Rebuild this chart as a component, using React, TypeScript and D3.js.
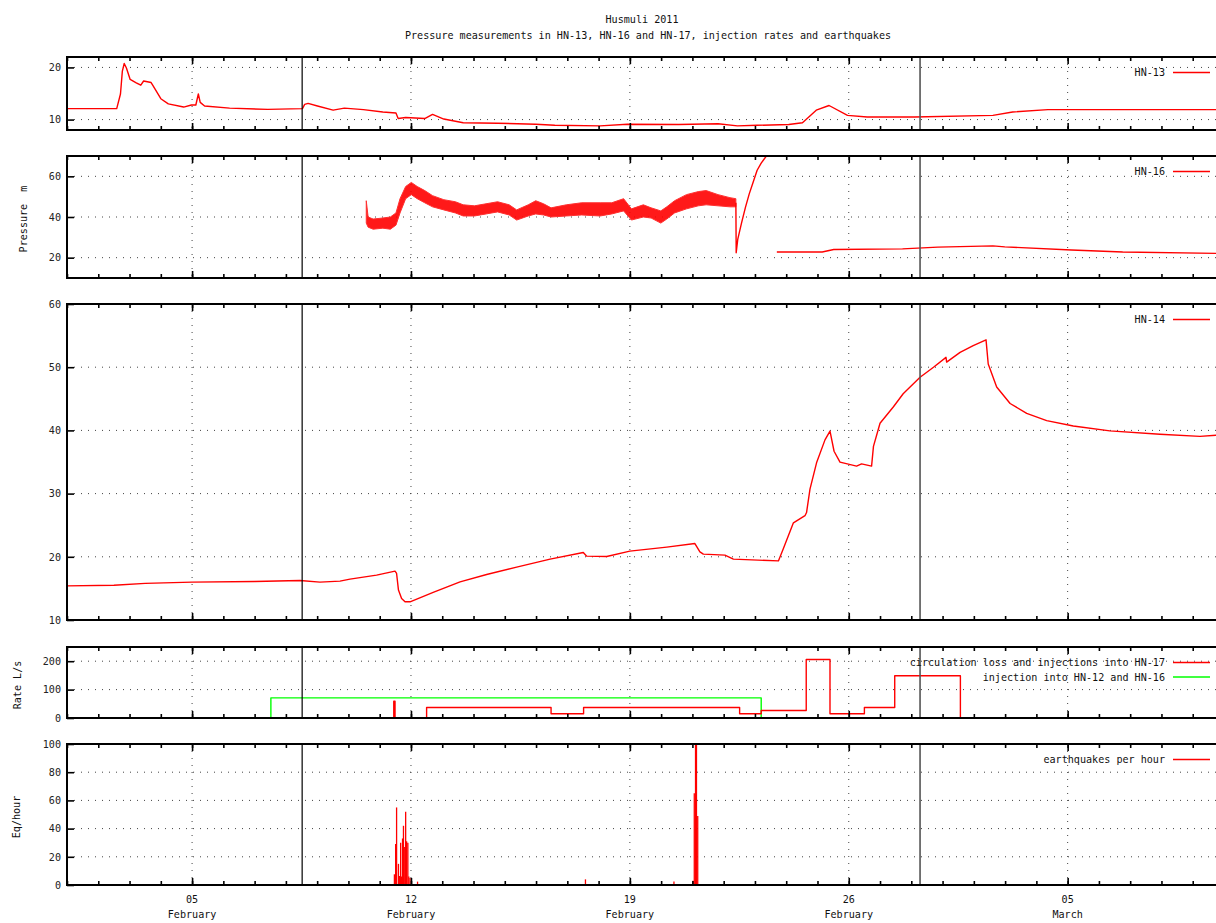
import { useEffect, useRef } from 'react';
import * as d3 from 'd3';

const W = 1216;
const H = 923;
const FONT = '"DejaVu Sans Mono", "Liberation Mono", monospace';
const FONT_SIZE = 10.1;
const RED = '#ff0000';
const GREEN = '#00ff00';

const START = new Date(2011, 1, 1);
const END = new Date(2011, 2, 10);
const DAY_MS = 24 * 60 * 60 * 1000;

const TITLE = 'Husmuli 2011';
const SUBTITLE = 'Pressure measurements in HN-13, HN-16 and HN-17, injection rates and earthquakes';

// all series: [days since 1 Feb 2011, value]
const HN13: [number, number][] = [
    [0, 12.1], [1.59, 12.1], [1.71, 14.9], [1.77, 19.3], [1.83, 20.75], [1.9, 19.9], [2.02, 17.7],
    [2.2, 17.1], [2.36, 16.6], [2.45, 17.4], [2.69, 17.1], [2.75, 16.5], [3.0, 14.0], [3.24, 13.0],
    [3.73, 12.4], [3.98, 12.8], [4.12, 12.8], [4.2, 14.9], [4.26, 13.3], [4.4, 12.6], [5.2, 12.2],
    [6.42, 11.95], [7.53, 12.1], [7.6, 12.9], [7.71, 13.1], [8.01, 12.6], [8.51, 11.8], [8.87, 12.2],
    [9.48, 11.9], [10.1, 11.45], [10.52, 11.25], [10.59, 10.2], [10.83, 10.4], [11.44, 10.2],
    [11.69, 11.0], [12.05, 10.1], [12.67, 9.4], [13.77, 9.3], [14.99, 9.1], [15.6, 8.9], [17.05, 8.8],
    [17.92, 9.1], [19.56, 9.05], [20.82, 9.2], [21.44, 8.8], [22.07, 8.9], [23.08, 9.05], [23.52, 9.4],
    [23.96, 11.8], [24.37, 12.7], [24.96, 10.8], [25.59, 10.5], [27.1, 10.5], [29.61, 10.8],
    [30.24, 11.45], [31.37, 11.9], [36.9, 11.9],
];

// noisy part of HN-16: [day, low, high]
const HN16_NOISY: [number, number, number][] = [
    [9.57, 37, 48], [9.63, 35, 40], [9.79, 34, 39], [10.1, 34.5, 39.5], [10.34, 34, 40], [10.52, 36, 42],
    [10.65, 42, 49], [10.83, 49, 55], [11.01, 51, 57], [11.2, 49, 55], [11.44, 47, 53], [11.69, 45, 50.5],
    [12.05, 43.5, 48.5], [12.42, 42, 47.5], [12.67, 40.5, 46], [13.03, 40.5, 45.5], [13.4, 41.5, 46.5],
    [13.77, 42.5, 47.5], [14.14, 41, 46], [14.38, 38.5, 43.5], [14.75, 40.5, 46], [14.99, 41.5, 48],
    [15.24, 41, 46.5], [15.48, 40, 44.5], [15.97, 40.5, 46], [16.46, 41, 47], [17.05, 40.5, 47],
    [17.42, 41.5, 47], [17.8, 43, 49], [18.05, 38.5, 44], [18.43, 40, 46], [18.68, 39.5, 44.5],
    [18.99, 37, 43], [19.18, 39, 45], [19.43, 42, 48], [19.81, 44, 51], [20.19, 45.5, 52.5],
    [20.44, 46, 53], [20.82, 45.5, 51], [21.2, 45, 49.5], [21.39, 45, 49],
];
const HN16_RECOVERY: [number, number][] = [
    [21.39, 47], [21.4, 22.4], [21.45, 29], [21.57, 37], [21.7, 45], [21.82, 51.5], [21.95, 57.5],
    [22.07, 63], [22.2, 66.5], [22.39, 70.5],
];
const HN16_LATE: [number, number][] = [
    [22.7, 22.8], [24.15, 22.8], [24.52, 24.0], [26.72, 24.3], [27.85, 25.2], [29.61, 25.8],
    [29.99, 25.3], [32.12, 23.8], [33.76, 22.8], [36.9, 22.1],
];

const HN14: [number, number][] = [
    [0, 15.4], [1.5, 15.5], [2.5, 15.8], [4.0, 16.0], [6.0, 16.1], [7.45, 16.26], [8.09, 16.0],
    [8.73, 16.15], [9.05, 16.47], [9.9, 17.1], [10.49, 17.73], [10.54, 17.36], [10.6, 14.73],
    [10.7, 13.4], [10.81, 12.88], [10.97, 12.88], [11.71, 14.36], [12.57, 16.04], [13.42, 17.2],
    [14.38, 18.36], [15.45, 19.63], [16.51, 20.69], [16.62, 20.1], [17.26, 20.05], [18.0, 20.9],
    [19.18, 21.53], [20.08, 22.1], [20.24, 20.79], [20.35, 20.42], [21.04, 20.26], [21.31, 19.63],
    [22.75, 19.35], [22.91, 21.3], [23.23, 25.38], [23.6, 26.5], [23.65, 27.0], [23.76, 30.7],
    [23.97, 34.87], [24.24, 38.5], [24.4, 39.9], [24.53, 36.7], [24.72, 34.98], [25.25, 34.35],
    [25.41, 34.7], [25.73, 34.35], [25.79, 37.48], [26.0, 41.13], [26.43, 43.74], [26.74, 45.8],
    [27.28, 48.4], [27.71, 50.0], [28.11, 51.56], [28.13, 50.8], [28.56, 52.35], [28.98, 53.4],
    [29.39, 54.33], [29.46, 50.5], [29.73, 46.87], [30.16, 44.26], [30.69, 42.7], [31.33, 41.55],
    [32.18, 40.7], [33.35, 39.93], [34.95, 39.4], [36.23, 39.05], [36.9, 39.3],
];

// injection rates, step changes
const HN17_T = [0, 10.45, 10.49, 11.5, 15.48, 16.52, 21.51, 22.2, 23.64, 24.4, 25.5, 26.47, 28.57, 36.9];
const HN17_RATE = [0, 59, 0, 37, 15, 37, 15, 26.5, 206, 15, 37, 149, 0, 0];
const HN12_T = [0, 6.52, 22.2, 36.9];
const HN12_RATE = [0, 71, 0, 0];

const EQ_PER_HOUR: [number, number][] = [
    [10.47, 7.6], [10.51, 29], [10.54, 55], [10.6, 15], [10.63, 6.4], [10.67, 30], [10.7, 6],
    [10.73, 33], [10.76, 42], [10.8, 27], [10.83, 52], [10.86, 31], [10.9, 30], [10.93, 6],
    [10.97, 5], [11.21, 2.4], [16.58, 4], [19.41, 2.4], [20.02, 3], [20.06, 65], [20.1, 100],
    [20.13, 100], [20.17, 49],
];

const MARKERS = [7.52, 27.28];
const MAJOR_DAYS = [4, 11, 18, 25, 32];
const DAY_LABELS = ['05', '12', '19', '26', '05'];
const MONTH_LABELS = ['February', 'February', 'February', 'February', 'March'];

const TICKS_HN13 = [10, 20];
const TICKS_HN16 = [20, 40, 60];
const TICKS_HN14 = [10, 20, 30, 40, 50, 60];
const TICKS_RATE = [0, 100, 200];
const TICKS_EQ = [0, 20, 40, 60, 80, 100];

const at = (d: number) => new Date(START.getTime() + d * DAY_MS);

const X0 = 67;
const X1 = 1224;

interface Panel {
    key: string;
    top: number;
    bottom: number;
    domain: [number, number];
    ticks: number[];
    legend: { label: string; color: string }[];
}

const PANELS: Panel[] = [
    { key: 'hn13', top: 57, bottom: 130, domain: [8, 22], ticks: TICKS_HN13, legend: [{ label: 'HN-13', color: RED }] },
    { key: 'hn16', top: 156, bottom: 278, domain: [10, 70], ticks: TICKS_HN16, legend: [{ label: 'HN-16', color: RED }] },
    { key: 'hn14', top: 304, bottom: 620, domain: [10, 60], ticks: TICKS_HN14, legend: [{ label: 'HN-14', color: RED }] },
    {
        key: 'rate', top: 647, bottom: 718, domain: [0, 250], ticks: TICKS_RATE, legend: [
            { label: 'circulation loss and injections into HN-17', color: RED },
            { label: 'injection into HN-12 and HN-16', color: GREEN },
        ],
    },
    { key: 'eq', top: 744, bottom: 885, domain: [0, 100], ticks: TICKS_EQ, legend: [{ label: 'earthquakes per hour', color: RED }] },
];

export default function App() {
    const svgRef = useRef<SVGSVGElement>(null);

    useEffect(() => {
        if (!svgRef.current) return;
        const svg = d3.select(svgRef.current);
        svg.selectAll('*').remove();

        const x = d3.scaleTime().domain([START, END]).range([X0, X1]);
        const minorDays = d3.timeDay.range(START, END);
        const majorDays = MAJOR_DAYS.map(at);

        svg.append('rect').attr('width', W).attr('height', H).attr('fill', '#fff');

        // Titles
        svg.append('text').attr('x', 642).attr('y', 23).attr('text-anchor', 'middle').text(TITLE);
        svg.append('text').attr('x', 648).attr('y', 39).attr('text-anchor', 'middle').text(SUBTITLE);

        PANELS.forEach(p => {
            const y = d3.scaleLinear().domain(p.domain).range([p.bottom, p.top]);
            const g = svg.append('g').attr('class', p.key);

            // Grid
            g.selectAll('.vgrid')
                .data(majorDays)
                .join('line')
                .attr('x1', d => x(d)).attr('x2', d => x(d))
                .attr('y1', p.top).attr('y2', p.bottom)
                .attr('stroke', '#444').attr('stroke-width', 1)
                .attr('stroke-dasharray', '1,6');
            g.selectAll('.hgrid')
                .data(p.ticks.filter(t => t > p.domain[0] && t < p.domain[1]))
                .join('line')
                .attr('x1', X0).attr('x2', X1)
                .attr('y1', d => y(d)).attr('y2', d => y(d))
                .attr('stroke', '#444').attr('stroke-width', 1)
                .attr('stroke-dasharray', '1,6');

            // Clip
            const clipId = `clip-${p.key}`;
            svg.append('clipPath').attr('id', clipId)
                .append('rect').attr('x', X0).attr('y', p.top).attr('width', X1 - X0).attr('height', p.bottom - p.top);
            const plot = g.append('g').attr('clip-path', `url(#${clipId})`);

            const drawLine = (data: [number, number][], color: string, curve: d3.CurveFactory = d3.curveLinear) => {
                const line = d3.line<[number, number]>()
                    .x(d => x(at(d[0])))
                    .y(d => y(d[1]))
                    .curve(curve);
                plot.append('path')
                    .attr('d', line(data))
                    .attr('fill', 'none')
                    .attr('stroke', color)
                    .attr('stroke-width', 1.4)
                    .attr('stroke-linejoin', 'round');
            };

            if (p.key === 'hn13') drawLine(HN13, RED);
            if (p.key === 'hn14') drawLine(HN14, RED);
            if (p.key === 'hn16') {
                const band = d3.area<[number, number, number]>()
                    .x(d => x(at(d[0])))
                    .y0(d => y(d[1]))
                    .y1(d => y(d[2]));
                plot.append('path')
                    .attr('d', band(HN16_NOISY))
                    .attr('fill', RED)
                    .attr('fill-opacity', 0.9)
                    .attr('stroke', '#ff3030')
                    .attr('stroke-width', 1);
                drawLine(HN16_RECOVERY, RED);
                drawLine(HN16_LATE, RED);
            }
            if (p.key === 'rate') {
                drawLine(HN12_T.map((t, i) => [t, HN12_RATE[i]] as [number, number]), GREEN, d3.curveStepAfter);
                drawLine(HN17_T.map((t, i) => [t, HN17_RATE[i]] as [number, number]), RED, d3.curveStepAfter);
            }
            if (p.key === 'eq') {
                plot.selectAll('.imp')
                    .data(EQ_PER_HOUR)
                    .join('line')
                    .attr('x1', d => x(at(d[0]))).attr('x2', d => x(at(d[0])))
                    .attr('y1', y(0)).attr('y2', d => y(d[1]))
                    .attr('stroke', RED).attr('stroke-width', 1.3);
            }

            // Vertical markers
            g.selectAll('.marker')
                .data(MARKERS)
                .join('line')
                .attr('x1', d => x(at(d))).attr('x2', d => x(at(d)))
                .attr('y1', p.top).attr('y2', p.bottom)
                .attr('stroke', (d, i) => (i === 0 ? '#000' : '#555'))
                .attr('stroke-width', (d, i) => (i === 0 ? 1.2 : 1.6));

            // Ticks (inward, mirrored)
            const tickStyle = (sel: d3.Selection<SVGGElement, unknown, null, undefined>) => {
                sel.select('.domain').remove();
                sel.selectAll('line').attr('stroke', '#000').attr('stroke-width', 1.6);
            };
            g.append('g').attr('transform', `translate(0,${p.bottom})`)
                .call(d3.axisTop(x).tickValues(minorDays).tickSize(4).tickFormat(() => ''))
                .call(tickStyle);
            g.append('g').attr('transform', `translate(0,${p.top})`)
                .call(d3.axisBottom(x).tickValues(minorDays).tickSize(4).tickFormat(() => ''))
                .call(tickStyle);
            g.append('g').attr('transform', `translate(0,${p.bottom})`)
                .call(d3.axisTop(x).tickValues(majorDays).tickSize(7).tickFormat(() => ''))
                .call(tickStyle);
            g.append('g').attr('transform', `translate(0,${p.top})`)
                .call(d3.axisBottom(x).tickValues(majorDays).tickSize(7).tickFormat(() => ''))
                .call(tickStyle);

            const yAxis = g.append('g').attr('transform', `translate(${X0},0)`)
                .call(d3.axisLeft(y).tickValues(p.ticks).tickSize(-7).tickPadding(6).tickFormat(d3.format('d')))
                .call(tickStyle);
            yAxis.selectAll('text').attr('font-family', FONT).attr('font-size', FONT_SIZE).attr('fill', '#222');
            yAxis.attr('font-family', null).attr('font-size', null);
            g.append('g').attr('transform', `translate(${X1},0)`)
                .call(d3.axisRight(y).tickValues(p.ticks).tickSize(-7).tickFormat(() => ''))
                .call(tickStyle);

            // Border
            g.append('rect')
                .attr('x', X0).attr('y', p.top)
                .attr('width', X1 - X0).attr('height', p.bottom - p.top)
                .attr('fill', 'none').attr('stroke', '#000').attr('stroke-width', 2);

            // Legend
            p.legend.forEach((l, i) => {
                const ly = p.top + 15.5 + i * 14.5;
                g.append('text')
                    .attr('x', 1165).attr('y', ly).attr('dy', '0.35em')
                    .attr('text-anchor', 'end').text(l.label);
                g.append('line')
                    .attr('x1', 1173).attr('x2', 1210).attr('y1', ly).attr('y2', ly)
                    .attr('stroke', l.color).attr('stroke-width', 1.5);
            });
        });

        // X labels under the bottom panel
        const last = PANELS[PANELS.length - 1];
        const xl = svg.append('g');
        xl.selectAll('.day')
            .data(majorDays)
            .join('text')
            .attr('x', d => x(d)).attr('y', last.bottom + 18)
            .attr('text-anchor', 'middle')
            .text((d, i) => DAY_LABELS[i]);
        xl.selectAll('.month')
            .data(majorDays)
            .join('text')
            .attr('x', d => x(d)).attr('y', last.bottom + 33)
            .attr('text-anchor', 'middle')
            .text((d, i) => MONTH_LABELS[i]);

        // Y axis titles
        const yTitle = (label: string, cx: number, cy: number) => {
            svg.append('text')
                .attr('transform', `translate(${cx},${cy}) rotate(-90)`)
                .attr('text-anchor', 'middle')
                .style('white-space', 'pre')
                .text(label);
        };
        yTitle('Pressure  m', 27, 219);
        yTitle('Rate L/s', 21, 685);
        yTitle('Eq/hour', 20, 817);
    }, []);

    return (
        <svg
            ref={svgRef}
            width={W}
            height={H}
            fontFamily={FONT}
            fontSize={FONT_SIZE}
            fill="#111"
            style={{ position: 'absolute', left: 0, top: 0 }}
        />
    );
}
